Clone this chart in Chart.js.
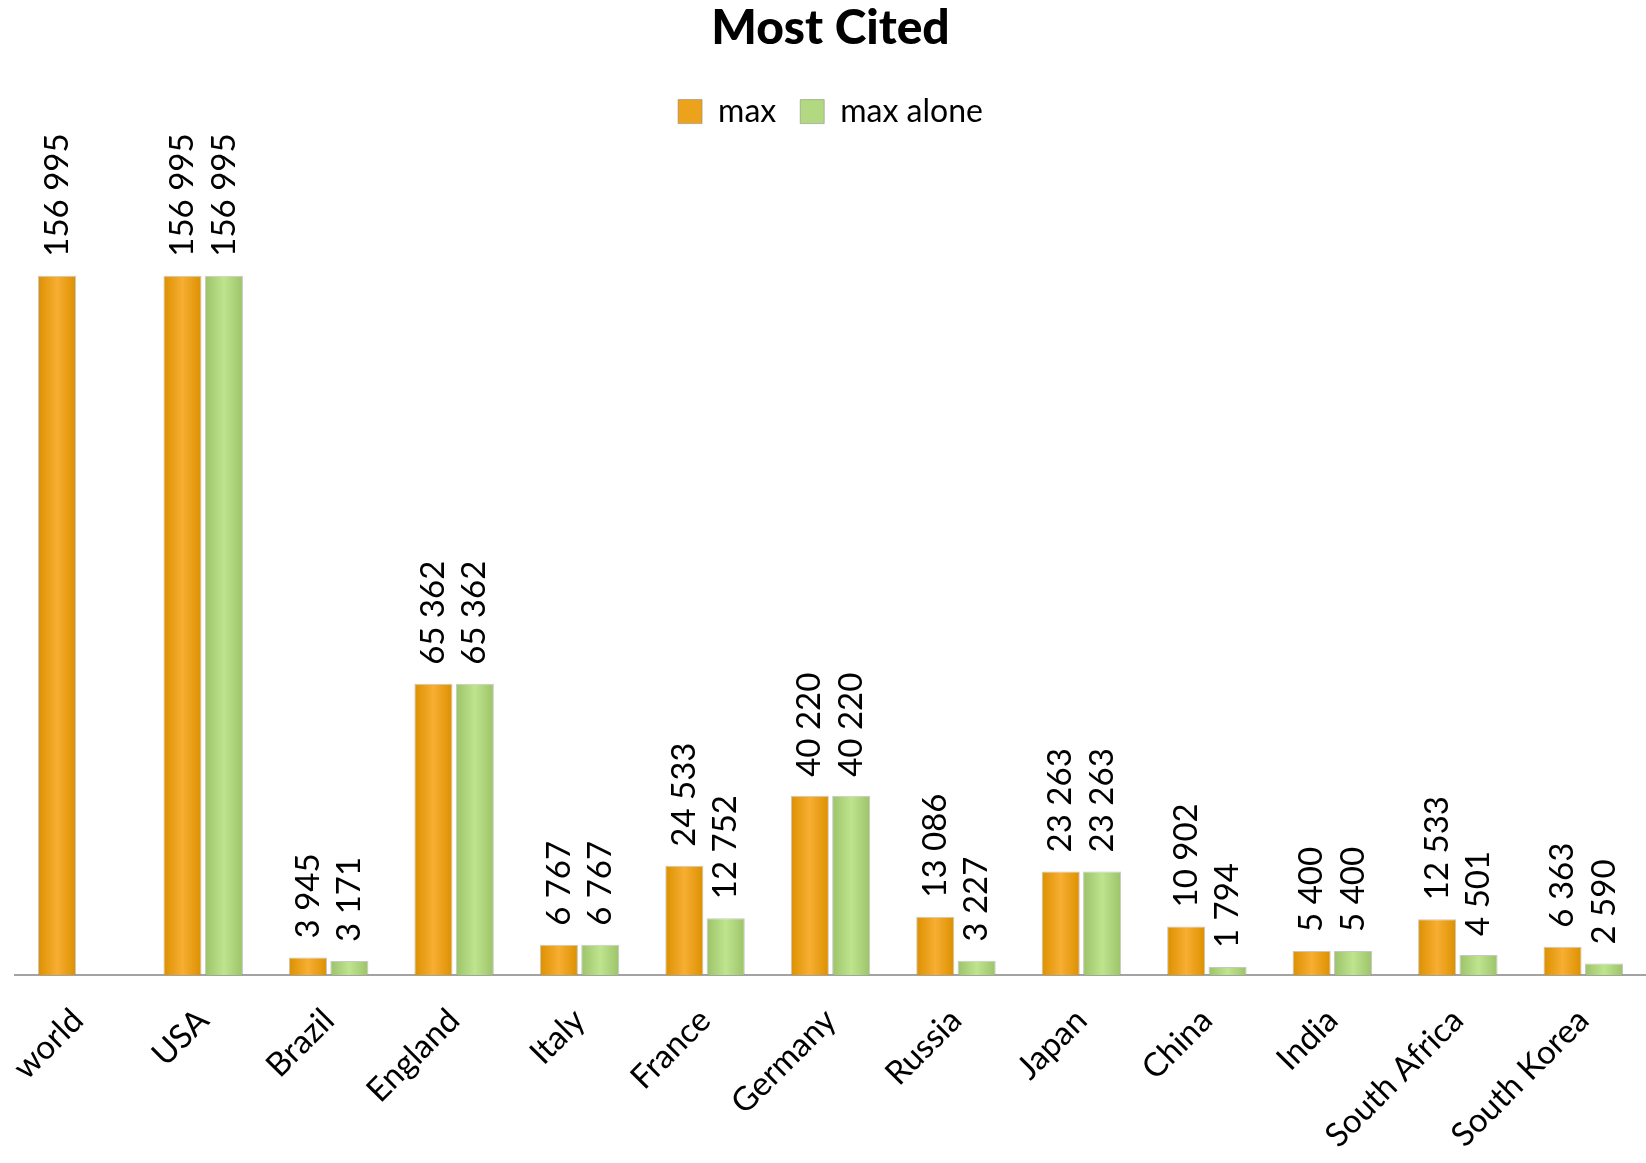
<!DOCTYPE html>
<html>
<head>
<meta charset="utf-8">
<title>Most Cited</title>
<script src="https://cdn.jsdelivr.net/npm/chart.js@4/dist/chart.umd.min.js"></script>
<style>
  html, body { margin: 0; padding: 0; background: #ffffff; }
  #wrap { width: 1646px; height: 1163px; }
</style>
</head>
<body>
<div id="wrap"><canvas id="chart" width="1646" height="1163"></canvas></div>
<script>
const countries = ['world', 'USA', 'Brazil', 'England', 'Italy', 'France', 'Germany',
    'Russia', 'Japan', 'China', 'India', 'South Africa', 'South Korea'];
const maxCited = [156995, 156995, 3945, 65362, 6767, 24533, 40220, 13086, 23263, 10902, 5400, 12533, 6363];
const maxAlone = [null, 156995, 3171, 65362, 6767, 12752, 40220, 3227, 23263, 1794, 5400, 4501, 2590];

const FONT = 'Lato, "Open Sans", sans-serif';

// bars are shaded darker on the sides, lighter in the middle
function barFill(dark, light) {
    return (ctx) => {
        const el = ctx.element;
        if (!el || !isFinite(el.x) || !isFinite(el.width)) return dark;
        const g = ctx.chart.ctx.createLinearGradient(el.x - el.width / 2, 0, el.x + el.width / 2, 0);
        g.addColorStop(0, dark);
        g.addColorStop(0.5, light);
        g.addColorStop(1, dark);
        return g;
    };
}

function fmt(v) {
    return String(v).replace(/\B(?=(\d{3})+(?!\d))/g, ' ');
}

// vertical value labels above every bar
const valueLabels = {
    id: 'valueLabels',
    afterDatasetsDraw(chart) {
        const c = chart.ctx;
        c.save();
        c.font = '33px ' + FONT;
        c.fillStyle = '#000';
        c.textAlign = 'left';
        c.textBaseline = 'middle';
        chart.data.datasets.forEach((ds, i) => {
            chart.getDatasetMeta(i).data.forEach((bar, j) => {
                const v = ds.data[j];
                if (v == null) return;
                c.save();
                c.translate(bar.x, bar.y - 19);
                c.rotate(-Math.PI / 2);
                c.fillText(fmt(v), 0, 0);
                c.restore();
            });
        });
        c.restore();
    }
};

const chart = new Chart(document.getElementById('chart'), {
    type: 'bar',
    data: {
        labels: countries,
        datasets: [{
            label: 'max',
            data: maxCited,
            backgroundColor: barFill('#DC9000', '#F7AE32'),
            legendColor: '#EDA21C',
            borderColor: 'rgba(130,130,130,0.45)',
            borderWidth: 1
        }, {
            label: 'max alone',
            data: maxAlone,
            backgroundColor: barFill('#9CC369', '#BEE48E'),
            legendColor: '#B2D882',
            borderColor: 'rgba(130,130,130,0.45)',
            borderWidth: 1
        }]
    },
    options: {
        responsive: false,
        animation: false,
        layout: { padding: { left: 15, right: 0, top: 0, bottom: 0 } },
        categoryPercentage: 0.66,
        barPercentage: 0.92,
        plugins: {
            title: {
                display: true,
                text: 'Most Cited',
                color: '#000',
                font: { family: FONT, size: 48, weight: 900 },
                padding: { top: 0, bottom: 14 }
            },
            legend: {
                position: 'top',
                labels: {
                    color: '#000',
                    font: { family: FONT, size: 32 },
                    boxWidth: 24,
                    boxHeight: 24,
                    padding: 24,
                    generateLabels: (ch) => ch.data.datasets.map((ds, i) => ({
                        text: ds.label,
                        fillStyle: ds.legendColor,
                        strokeStyle: 'rgba(130,130,130,0.5)',
                        lineWidth: 1,
                        datasetIndex: i
                    }))
                }
            },
            tooltip: { enabled: false }
        },
        scales: {
            x: {
                grid: { display: false, drawTicks: false },
                border: { display: true, color: '#a3a3a3', width: 2 },
                ticks: {
                    color: '#000',
                    font: { family: FONT, size: 33 },
                    minRotation: 45,
                    maxRotation: 45,
                    autoSkip: false,
                    padding: 26
                },
                afterFit: (s) => {
                    s.height = 188;
                    s.paddingLeft = 0;
                    s.paddingRight = 0;
                }
            },
            y: {
                display: false,
                min: 0,
                max: 188000
            }
        }
    },
    plugins: [valueLabels]
});
chart.update();
</script>
</body>
</html>
